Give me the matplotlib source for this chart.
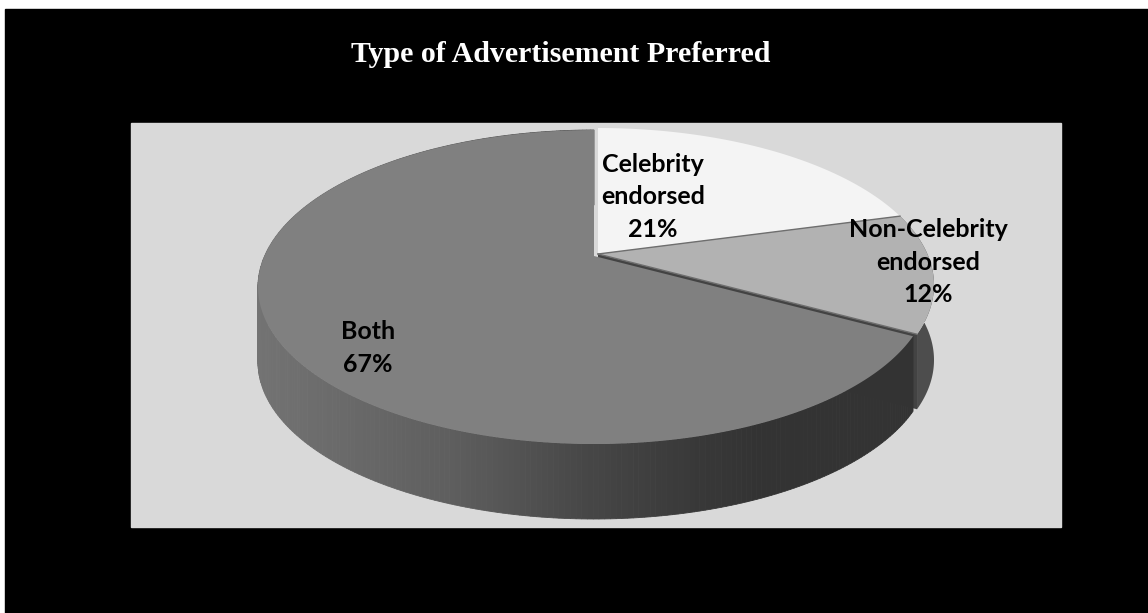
import numpy as np
import matplotlib.pyplot as plt
from matplotlib.patches import Polygon, Rectangle

# chart data
title = 'Type of Advertisement Preferred'
labels = ['Celebrity\nendorsed', 'Non-Celebrity\nendorsed', 'Both']
shares = [21, 12, 67]

# styling / layout
top_colors = ['#f4f4f4', '#b2b2b2', '#808080']
side_colors = ['#cfcfcf', '#4d4d4d', None]   # Both gets a gradient
offsets = [(0, 0), (0, 0), (-4, 2)]          # Both slightly pulled out
label_pos = [(653, 197), (928, 262), (368, 348)]

W, H = 1148, 613
fig = plt.figure(figsize=(W / 100, H / 100), dpi=100, facecolor='white')
ax = fig.add_axes([0, 0, 1, 1])
ax.set_xlim(0, W)
ax.set_ylim(H, 0)
ax.axis('off')

ax.add_patch(Rectangle((5, 9), W - 5, H - 9, color='black'))
ax.add_patch(Rectangle((131, 123), 930, 404, color='#d9d9d9'))

# 3d pie geometry (pixels)
cx, cy, rx, ry, depth = 598, 285, 336, 157, 75
vy = cy - 31
k = np.radians(12)


def proj(phi, dx=0, dy=0, z=0):
    t = phi - k * np.sin(phi)
    return cx + dx + rx * np.sin(t), cy + dy + z - ry * np.cos(t)


def side_shade(x):
    g = np.interp(x, [259, 450, 600, 700, 760], [0.45, 0.37, 0.27, 0.22, 0.2])
    return (g, g, g)


bounds = np.radians(np.concatenate([[0], np.cumsum(shares)]) * 3.6)

# sides and cut faces first
for i in [1, 2]:
    p0, p1 = bounds[i], bounds[i + 1]
    dx, dy = offsets[i]
    phis = np.linspace(p0, p1, 300)
    if side_colors[i] is not None:
        xs, ys = proj(phis, dx, dy)
        xb, yb = proj(phis[::-1], dx, dy, depth)
        ax.add_patch(Polygon(np.column_stack([np.r_[xs, xb], np.r_[ys, yb]]),
                             closed=True, fc=side_colors[i], ec='none'))
        # cut face at end of slice
        ox, oy = proj(p1, dx, dy)
        face = [(cx + dx, vy + dy), (ox, oy), (ox, oy + depth), (cx + dx, vy + dy + depth)]
        ax.add_patch(Polygon(face, closed=True, fc='#434343', ec='none'))
    else:
        for a, b in zip(phis[:-1], phis[1:]):
            xa, ya = proj(np.array([a, b]), dx, dy)
            xm = (xa[0] + xa[1]) / 2
            quad = [(xa[0], ya[0]), (xa[1], ya[1]), (xa[1], ya[1] + depth), (xa[0], ya[0] + depth)]
            ax.add_patch(Polygon(quad, closed=True, fc=side_shade(xm), ec=side_shade(xm), lw=0.6))

# top faces
for i in range(len(shares)):
    p0, p1 = bounds[i], bounds[i + 1]
    dx, dy = offsets[i]
    phis = np.linspace(p0, p1, 300)
    xs, ys = proj(phis, dx, dy)
    pts = np.column_stack([np.r_[cx + dx, xs], np.r_[vy + dy, ys]])
    ax.add_patch(Polygon(pts, closed=True, fc=top_colors[i], ec='none'))
    if i == 1:
        for p in (p0, p1):
            ox, oy = proj(p, dx, dy)
            ax.plot([cx + dx, ox], [vy + dy, oy], color='#6e6e6e', lw=1)

for i, lab in enumerate(labels):
    x, y = label_pos[i]
    ax.text(x, y, f'{lab}\n{shares[i]}%', ha='center', va='center', fontsize=18,
            fontweight='bold', family='Lato', color='black', linespacing=1.48)

ax.text(561, 54, title, ha='center', va='center', fontsize=21.5, fontweight='bold',
        family='Liberation Serif', color='white')

fig.savefig('out.png', dpi=100, facecolor=fig.get_facecolor())
